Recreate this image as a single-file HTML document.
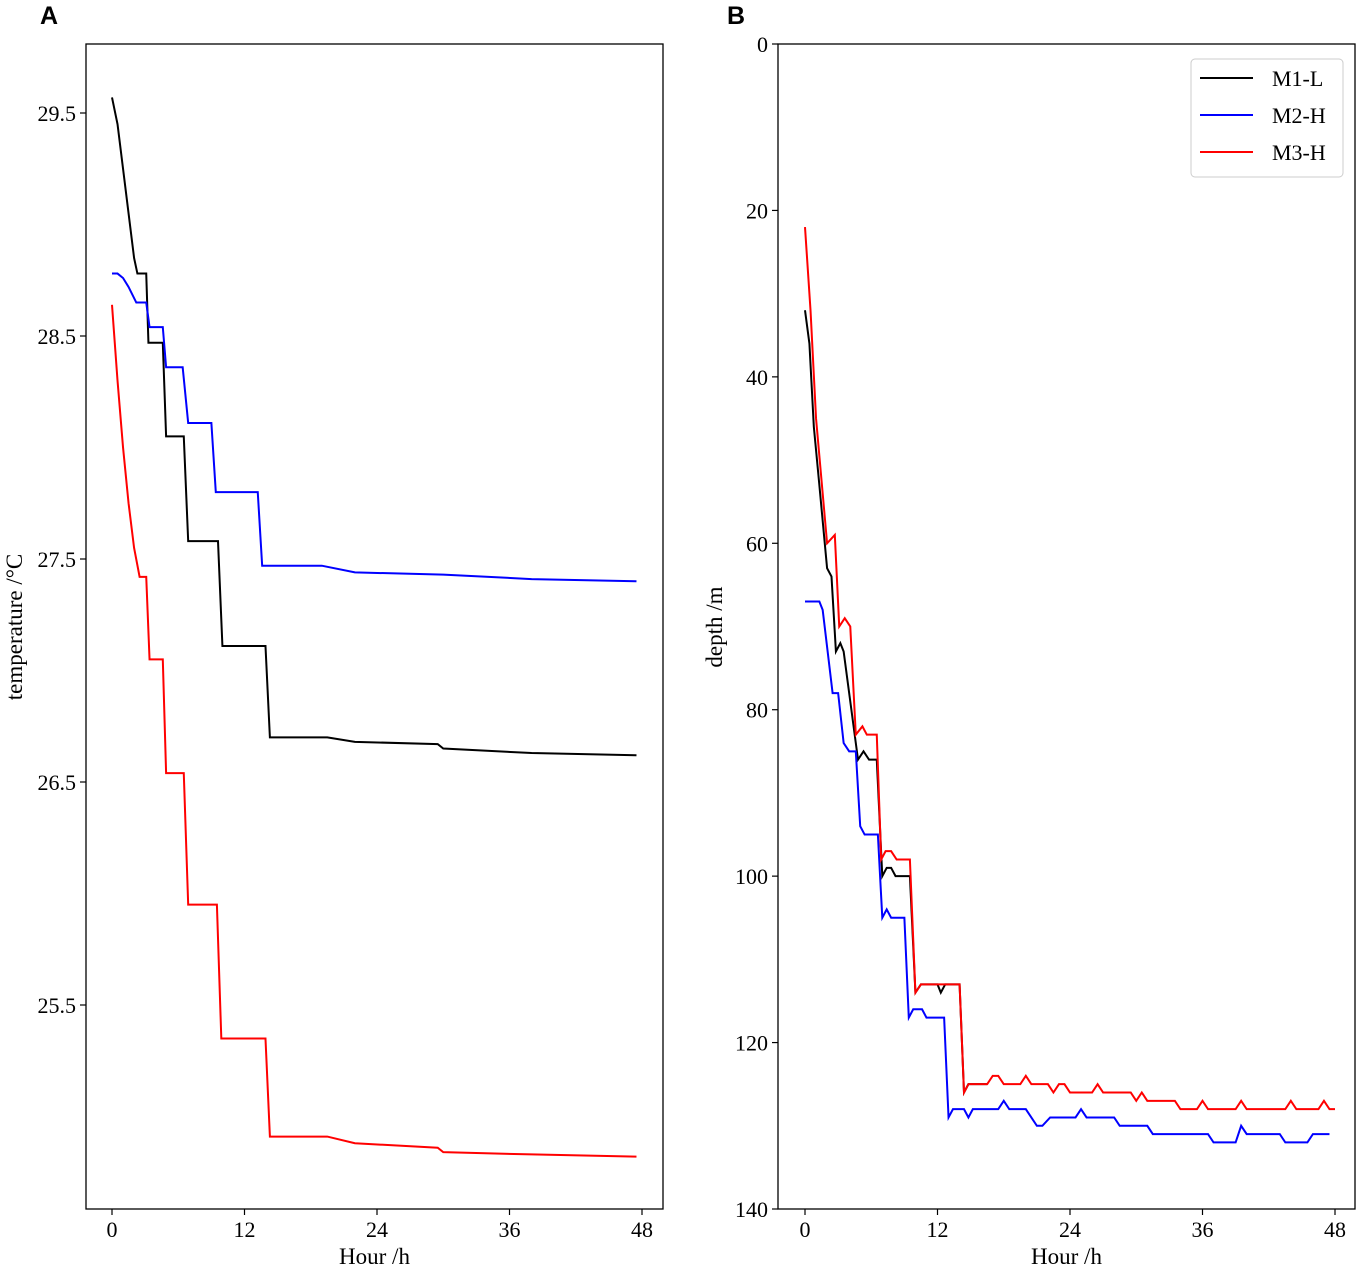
<!DOCTYPE html>
<html><head><meta charset="utf-8"><style>
body{margin:0;background:#fff;}
svg{display:block;font-family:"Liberation Serif",serif;}
</style></head><body>
<svg id="chart" width="1361" height="1270"></svg>
<script>
// Panel A data (hour, temperature)
const aBlackT=[0,0.5,1,1.5,2,2.3,3.1,3.3,4.6,4.9,6.5,6.9,9.6,10,13.9,14.3,19.5,22,29.5,30,38,47.5];
const aBlackV=[29.57,29.45,29.25,29.05,28.85,28.78,28.78,28.47,28.47,28.05,28.05,27.58,27.58,27.11,27.11,26.70,26.70,26.68,26.67,26.65,26.63,26.62];
const aBlueT=[0,0.5,1,1.5,2.2,3.1,3.4,4.6,4.9,6.4,6.9,9,9.4,13.2,13.6,19,22,30,38,47.5];
const aBlueV=[28.78,28.78,28.76,28.72,28.65,28.65,28.54,28.54,28.36,28.36,28.11,28.11,27.80,27.80,27.47,27.47,27.44,27.43,27.41,27.40];
const aRedT=[0,0.5,1,1.5,2,2.5,3.1,3.4,4.6,4.9,6.5,6.9,9.5,9.9,13.9,14.3,19.5,22,29.5,30,38,47.5];
const aRedV=[28.64,28.30,28.00,27.75,27.55,27.42,27.42,27.05,27.05,26.54,26.54,25.95,25.95,25.35,25.35,24.91,24.91,24.88,24.86,24.84,24.83,24.82];
// Panel B data (hour, depth)
const bRedT=[0,0.5,1,2,2.7,3.1,3.6,4.1,4.6,5.2,5.6,6.5,6.9,7.3,7.8,8.3,9.5,10,10.5,14,14.4,14.8,16.5,17,17.5,18,19.5,20,20.5,22,22.5,23,23.5,24,26,26.5,27,29.5,30,30.5,31,33.5,34,35.5,36,36.5,39,39.5,40,43.5,44,44.5,46.5,47,47.5,48];
const bRedV=[22,32,45,60,59,70,69,70,83,82,83,83,98,97,97,98,98,114,113,113,126,125,125,124,124,125,125,124,125,125,126,125,125,126,126,125,126,126,127,126,127,127,128,128,127,128,128,127,128,128,127,128,128,127,128,128];
const bBlackT=[0,0.4,0.8,1.3,2,2.4,2.8,3.2,3.5,4.8,5.3,5.8,6.5,7,7.4,7.8,8.2,9.5,10,10.5,12,12.3,12.7,14,14.4,14.8,16.5];
const bBlackV=[32,36,46,53,63,64,73,72,73,86,85,86,86,100,99,99,100,100,114,113,113,114,113,113,126,125,125];
const bBlueT=[0,1.3,1.6,2.5,3,3.5,4,4.6,5,5.4,6.6,7,7.4,7.8,9,9.4,9.8,10.6,11,12.6,13,13.4,14.4,14.8,15.2,17.5,18,18.5,20,21,21.5,22.2,24.5,25,25.5,28,28.5,31,31.5,36.5,37,39,39.5,40,43,43.5,45.5,46,47.5];
const bBlueV=[67,67,68,78,78,84,85,85,94,95,95,105,104,105,105,117,116,116,117,117,129,128,128,129,128,128,127,128,128,130,130,129,129,128,129,129,130,130,131,131,132,132,130,131,131,132,132,131,131];
const xTicks=[0,12,24,36,48];
const aYTicks=[29.5,28.5,27.5,26.5,25.5];
const bYTicks=[0,20,40,60,80,100,120,140];

const NS="http://www.w3.org/2000/svg";
const svg=document.getElementById('chart');
function el(tag,attrs,parent){const e=document.createElementNS(NS,tag);for(const k in attrs)e.setAttribute(k,attrs[k]);(parent||svg).appendChild(e);return e;}
function txt(s,attrs,parent){const e=el('text',attrs,parent);e.textContent=s;return e;}

function panel(cfg){
  const g=el('g',{});
  
  
  const xs=t=>cfg.x0+t*(cfg.x48-cfg.x0)/48;
  const ys=v=>cfg.yA+(v-cfg.vA)*(cfg.yB-cfg.yA)/(cfg.vB-cfg.vA);
  const box=el('rect',{x:cfg.L,y:44,width:cfg.R-cfg.L,height:1165,fill:'none',stroke:'#000','stroke-width':1.3},g);
  
  
  xTicks.forEach(t=>{
    const X=xs(t);
    el('line',{x1:X,x2:X,y1:1209,y2:1215,stroke:'#000','stroke-width':1.2},g);
    const l=txt(String(t),{x:X,y:1237,'font-size':22,'text-anchor':'middle'},g);
    
    
  });
  cfg.yTicks.forEach(v=>{
    const Y=ys(v);
    el('line',{x1:cfg.L-6,x2:cfg.L,y1:Y,y2:Y,stroke:'#000','stroke-width':1.2},g);
    const l=txt(cfg.fmt(v),{x:cfg.L-10,y:Y+8,'font-size':22,'text-anchor':'end'},g);
    
    
  });
  const xt=txt('Hour /h',{x:(cfg.L+cfg.R)/2,y:1264,'font-size':23,'text-anchor':'middle'},g);
  
  
  const yt=txt(cfg.ytitle,{x:0,y:0,'font-size':23,'text-anchor':'middle',transform:`translate(${cfg.ytx},627) rotate(-90)`},g);
  
  
  const pl=txt(cfg.letter,{x:cfg.lx,y:24,'font-size':25,'font-weight':'bold','font-family':'Liberation Sans, sans-serif'},g);
  
  
  cfg.series.forEach(s=>{
    const p=el('polyline',{points:s.t.map((t,i)=>xs(t)+','+ys(s.v[i])).join(' '),fill:'none',stroke:s.c,'stroke-width':2},g);
    
    
  });
  return g;
}
panel({name:'panel-a-temperature',L:86,R:663,x0:112,x48:642,yA:113,vA:29.5,yB:1005,vB:25.5,yTicks:aYTicks,fmt:v=>v.toFixed(1),ytitle:'temperature /°C',ytx:22,letter:'A',lx:40,
  series:[{t:aBlackT,v:aBlackV,c:'#000',name:'line-m1-l'},{t:aBlueT,v:aBlueV,c:'#0000ff',name:'line-m2-h'},{t:aRedT,v:aRedV,c:'#ff0000',name:'line-m3-h'}]});
panel({name:'panel-b-depth',L:778,R:1355,x0:805,x48:1335,yA:44,vA:0,yB:1209,vB:140,yTicks:bYTicks,fmt:v=>String(v),ytitle:'depth /m',ytx:722,letter:'B',lx:727,
  series:[{t:bBlackT,v:bBlackV,c:'#000',name:'line-m1-l'},{t:bBlueT,v:bBlueV,c:'#0000ff',name:'line-m2-h'},{t:bRedT,v:bRedV,c:'#ff0000',name:'line-m3-h'}]});

// legend
const lg=el('g',{});


el('rect',{x:1191,y:59,width:152,height:118,rx:4,fill:'#fff',stroke:'#ccc','stroke-width':1},lg);
[['M1-L','#000'],['M2-H','#0000ff'],['M3-H','#ff0000']].forEach((e,i)=>{
  const y=78+i*37;
  const it=el('g',{},lg);
  
  
  el('line',{x1:1200,x2:1253,y1:y,y2:y,stroke:e[1],'stroke-width':2},it);
  txt(e[0],{x:1272,y:y+8,'font-size':22},it);
});
</script>
</body></html>
